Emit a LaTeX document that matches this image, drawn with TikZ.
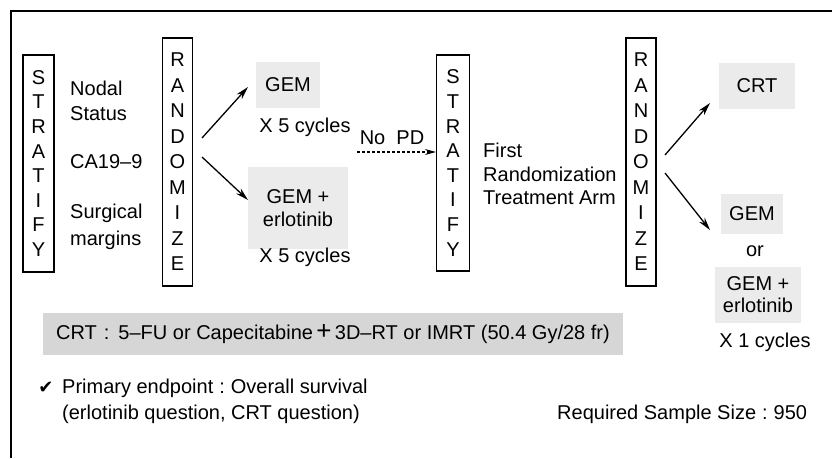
\documentclass[tikz,border=0pt]{standalone}
\usepackage{fontspec}
\setmainfont{Liberation Sans}
\newfontfamily\symfont{DejaVu Sans}
\usetikzlibrary{arrows.meta}
\begin{document}
\begin{tikzpicture}[x=1pt,y=-1pt, font=\fontsize{20}{24}\selectfont,
  vbox/.style={draw, line width=1.1pt, inner sep=0pt, align=center},
  shadebox/.style={fill=black!8, inner sep=2pt, align=center},
  arr/.style={line width=1.3pt, -{Stealth[length=13pt,width=7pt]}},
  darr/.style={line width=1.1pt, dash pattern=on 3pt off 2pt, -{Stealth[length=11pt,width=6pt]}},
  lbl/.style={inner sep=0pt, align=left, anchor=west},
  txt/.style={inner sep=0pt, align=center}
]
\useasboundingbox (0,0) rectangle (832,458);
\draw[line width=1.4pt] (11,458) -- (11,11) -- (832,11);

% vertical boxes
\node[vbox, minimum width=31, minimum height=217, font=\fontsize{20}{24.6}\selectfont] (s1) at (38.5,163.5) {S\\T\\R\\A\\T\\I\\F\\Y};
\node[vbox, minimum width=30, minimum height=248, font=\fontsize{20}{25.5}\selectfont] (r1) at (177.5,162) {R\\A\\N\\D\\O\\M\\I\\Z\\E};
\node[vbox, minimum width=33, minimum height=216, font=\fontsize{20}{24.6}\selectfont] (s2) at (453,163) {S\\T\\R\\A\\T\\I\\F\\Y};
\node[vbox, minimum width=30, minimum height=248, font=\fontsize{20}{25.5}\selectfont] (r2) at (641,162) {R\\A\\N\\D\\O\\M\\I\\Z\\E};

% stratification factors
\node[lbl, font=\fontsize{20}{25}\selectfont] (nodal) at (70,100.5) {Nodal\\Status};
\node[lbl] (ca) at (70,162) {CA19–9};
\node[lbl, font=\fontsize{20}{27}\selectfont] (surg) at (70,226.5) {Surgical\\margins};

% first arms
\node[shadebox, minimum width=64, minimum height=46] (gem1) at (288,85) {GEM};
\node[txt] (x5a) at (305,127) {X 5 cycles};
\node[shadebox, minimum width=100, minimum height=82, font=\fontsize{20}{23}\selectfont] (ge1) at (298,208) {GEM +\\erlotinib};
\node[txt] (x5b) at (305,257) {X 5 cycles};

\coordinate (a1s) at (202,138);
\coordinate (a1e) at (248,87);
\coordinate (a2s) at (202,157);
\coordinate (a2e) at (248,200);
\draw[arr] (a1s) -- (a1e);
\draw[arr] (a2s) -- (a2e);

% No PD
\node[txt] (nopd) at (392,138) {No\ \ PD};
\coordinate (ds) at (357,152);
\draw[darr] (ds) -- (s2.west |- ds);

\node[lbl, font=\fontsize{20}{23.5}\selectfont] (first) at (483,174) {First\\Randomization\\Treatment Arm};

% second arms
\node[shadebox, minimum width=76, minimum height=46] (crt) at (757,86) {CRT};
\node[shadebox, minimum width=62, minimum height=40] (gem2) at (752,214) {GEM};
\node[txt] (or) at (755,251) {or};
\node[shadebox, minimum width=86, minimum height=56, font=\fontsize{20}{22}\selectfont] (ge2) at (758,295) {GEM +\\erlotinib};
\node[txt] (x1) at (765,342) {X 1 cycles};

\coordinate (b1s) at (665,155);
\coordinate (b1e) at (710,103);
\coordinate (b2s) at (665,173);
\coordinate (b2e) at (710,230);
\draw[arr] (b1s) -- (b1e);
\draw[arr] (b2s) -- (b2e);

% banner
\node[fill=black!16, minimum width=580, minimum height=42, inner sep=0pt] (banner) at (333,334) {CRT\hspace{7pt}:\hspace{9pt}5–FU or Capecitabine\,{\fontsize{26}{26}\selectfont +}\,3D–RT or IMRT (50.4 Gy/28 fr)};

% notes
\node[inner sep=0pt] (chk) at (46,388) {\symfont\fontsize{18}{18}\selectfont ✔};
\node[lbl] (pe) at (62,388) {Primary endpoint\hspace{6pt}:\hspace{6pt}Overall survival};
\node[lbl] (q) at (62,414) {(erlotinib question, CRT question)};
\node[lbl] (req) at (557,414) {Required Sample Size\hspace{6pt}:\hspace{6pt}950};
\end{tikzpicture}
\end{document}
